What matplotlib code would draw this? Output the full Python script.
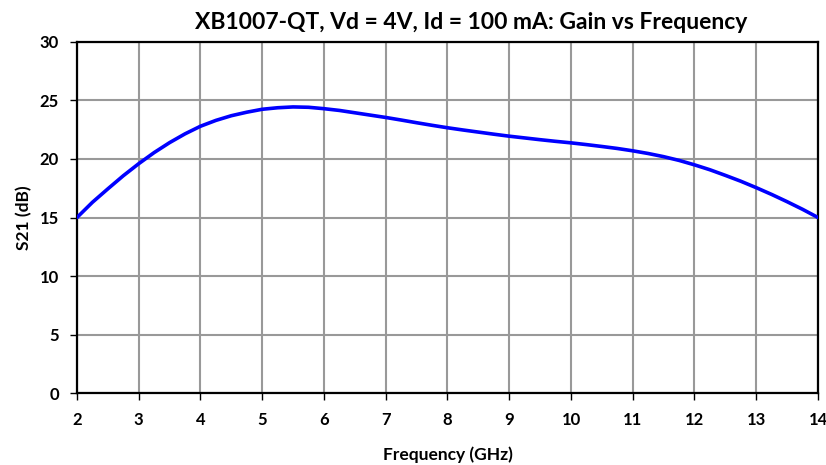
import matplotlib
matplotlib.use("Agg")
import matplotlib.pyplot as plt

plt.rcParams['font.family'] = ['Lato', 'DejaVu Sans']

freq = [2.0, 2.25, 2.5, 2.75, 3.0, 3.25, 3.5, 3.75, 4.0, 4.25, 4.5, 4.75,
        5.0, 5.25, 5.5, 5.75, 6.0, 6.25, 6.5, 6.75, 7.0, 7.25, 7.5, 7.75,
        8.0, 8.25, 8.5, 8.75, 9.0, 9.25, 9.5, 9.75, 10.0, 10.25, 10.5, 10.75,
        11.0, 11.25, 11.5, 11.75, 12.0, 12.25, 12.5, 12.75, 13.0, 13.25, 13.5, 13.75, 14.0]
s21 = [15.0, 16.3, 17.45, 18.57, 19.6, 20.55, 21.4, 22.15, 22.8, 23.3, 23.7, 24.0,
       24.25, 24.38, 24.45, 24.42, 24.3, 24.15, 23.95, 23.75, 23.55, 23.33, 23.1, 22.88,
       22.67, 22.48, 22.3, 22.12, 21.95, 21.8, 21.65, 21.51, 21.38, 21.23, 21.07, 20.9,
       20.7, 20.47, 20.2, 19.88, 19.5, 19.08, 18.6, 18.1, 17.55, 16.97, 16.35, 15.7, 15.0]
xticks = list(range(2, 15))
yticks = [0, 5, 10, 15, 20, 25, 30]

W = 'bold'

fig = plt.figure(figsize=(8.26, 4.65), dpi=100)
ax = fig.add_axes([0.0932, 0.1548, 0.8971, 0.7549])
ax.plot(freq, s21, color='#0000FF', lw=2.6, solid_capstyle='round',
        solid_joinstyle='round', zorder=3)
ax.set_xlim(2, 14)
ax.set_ylim(0, 30)
ax.set_xticks(xticks)
ax.set_yticks(yticks)
ax.grid(True, color='#999999', lw=1.5)
ax.set_axisbelow(True)
for s in ax.spines.values():
    s.set_linewidth(1.6)
    s.set_color('black')
ax.tick_params(direction='out', length=5, width=1, colors='black')
ax.tick_params(axis='x', pad=9)
ax.tick_params(axis='y', pad=8)
for lbl in ax.get_xticklabels() + ax.get_yticklabels():
    lbl.set_fontweight(W)
    lbl.set_fontsize(12)
ax.set_xlabel('Frequency (GHz)', fontsize=12.5, fontweight=W, labelpad=13)
ax.set_ylabel('S21 (dB)', fontsize=12.5, fontweight=W, labelpad=5)
fig.text(0.571, 0.952, 'XB1007-QT, Vd = 4V, Id = 100 mA: Gain vs Frequency',
         fontsize=16.5, fontweight=W, ha='center', va='center')
fig.savefig('out.png', dpi=100)
